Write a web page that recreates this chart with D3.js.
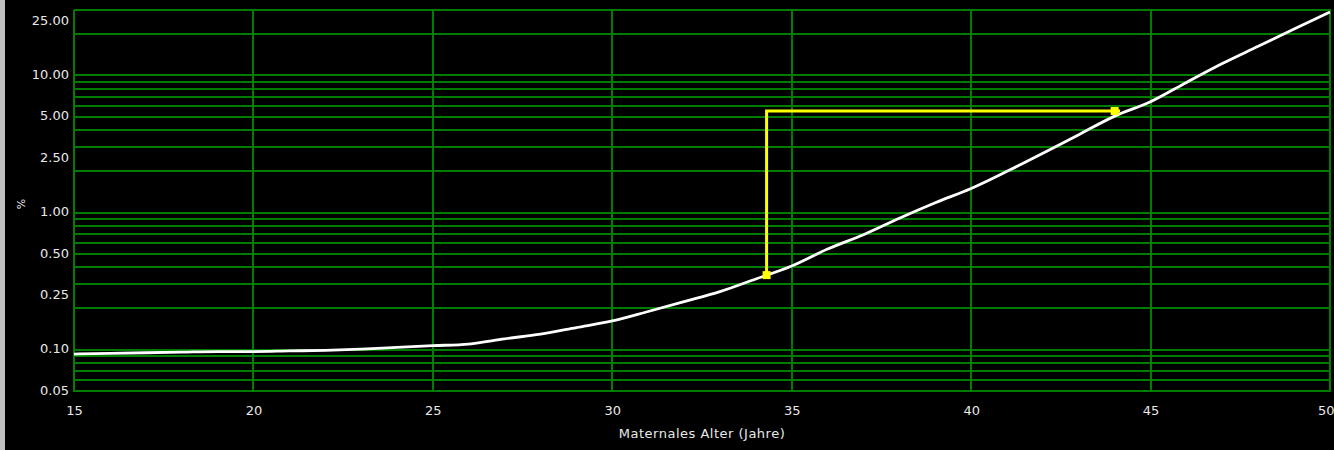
<!DOCTYPE html>
<html><head><meta charset="utf-8">
<script src="https://cdn.jsdelivr.net/npm/d3@7"></script>
<style>
html,body{margin:0;padding:0;background:#000;overflow:hidden;}
svg{display:block;}
text{font-family:"DejaVu Sans",Verdana,sans-serif;fill:#e8e8e8;}
</style></head><body>
<svg id="c" width="1334" height="450"></svg>
<script>
// Data
const ages = [15,16,17,18,19,20,21,22,23,24,25,26,27,28,29,30,31,32,33,34,35,36,37,38,39,40,41,42,43,44,45,46,47,48,49,50];
const risk = [0.093,0.094,0.095,0.096,0.097,0.097,0.098,0.099,0.101,0.104,0.107,0.110,0.120,0.130,0.145,0.162,0.190,0.224,0.265,0.328,0.408,0.542,0.690,0.910,1.18,1.50,2.00,2.71,3.70,5.05,6.43,8.89,12.2,16.3,21.8,29.0];
const markerAge = [34.3, 34.3, 44.15];
const markerRisk = [0.35, 5.5, 5.5];
const markerPoints = [[34.3,0.35],[44.0,5.5]];
const xTicks = [15,20,25,30,35,40,45,50];
const yTickValues = [0.05,0.10,0.25,0.50,1.00,2.50,5.00,10.00,25.00];
const yTickLabels = ["0.05","0.10","0.25","0.50","1.00","2.50","5.00","10.00","25.00"];
const yGrid = [0.05,0.06,0.07,0.08,0.09,0.1,0.2,0.3,0.4,0.5,0.6,0.7,0.8,0.9,1,2,3,4,5,6,7,8,9,10,20,30];
const xTitle = "Maternales Alter (Jahre)";
const yTitle = "%";

const svg = d3.select("#c");
const L=74, R=1330, T=10, B=391;
const x = d3.scaleLinear().domain([15,50]).range([L,R]);
const y = d3.scaleLog().domain([0.05,30]).range([B,T]);
const px = v => Math.round(v);
const FONT = "'DejaVu Sans',Verdana,sans-serif";

svg.append("rect").attr("x",0).attr("y",0).attr("width",1334).attr("height",450).attr("fill","#000");
svg.append("rect").attr("x",0).attr("y",0).attr("width",5).attr("height",450).attr("fill","#c0c0c0");

const grid = svg.append("g").attr("stroke","#007c00").attr("stroke-width",2).attr("shape-rendering","crispEdges");
grid.selectAll("line.h").data(yGrid).enter().append("line")
  .attr("x1",px(L)).attr("x2",px(R)+1).attr("y1",d=>px(y(d))).attr("y2",d=>px(y(d)));
grid.selectAll("line.v").data(xTicks).enter().append("line")
  .attr("y1",px(T)).attr("y2",px(B)+1).attr("x1",d=>px(x(d))).attr("x2",d=>px(x(d)));

const yAxis = d3.axisLeft(y).tickValues(yTickValues).tickFormat((d,i)=>yTickLabels[i]).tickSize(0).tickPadding(5);
const gy = svg.append("g").attr("transform",`translate(${L},-1)`).call(yAxis);
gy.select(".domain").remove();
gy.selectAll("text").attr("fill","#e8e8e8").style("font-size","13px").style("font-family",FONT);

const xAxis = d3.axisBottom(x).tickValues(xTicks).tickFormat(d3.format("d")).tickSize(0).tickPadding(15);
const gx = svg.append("g").attr("transform",`translate(0,${B})`).call(xAxis);
gx.select(".domain").remove();
gx.selectAll("text").attr("fill","#e8e8e8").style("font-size","13px").style("font-family",FONT);
// keep the last label inside the page
gx.selectAll(".tick").filter(d=>d===50).select("text").attr("text-anchor","end").attr("x",4);

svg.append("text").attr("x",(L+R)/2).attr("y",438).attr("text-anchor","middle")
  .style("font-size","13px").style("letter-spacing","0.5px").text(xTitle);
svg.append("text").attr("transform","translate(25,204) rotate(-90)").attr("text-anchor","middle").style("font-size","11px").text(yTitle);

// Curve
const line = d3.line().x(d=>x(d[0])).y(d=>y(d[1]));
const smooth = d3.line().x(d=>x(d[0])).y(d=>y(d[1])).curve(d3.curveMonotoneX);
svg.append("path").datum(ages.map((a,i)=>[a,risk[i]])).attr("d",smooth)
  .attr("fill","none").attr("stroke","#ffffff").attr("stroke-width",2.8).attr("stroke-linejoin","round");

// Yellow annotation
svg.append("path").datum(markerAge.map((a,i)=>[a,markerRisk[i]])).attr("d",line)
  .attr("fill","none").attr("stroke","#ffff00").attr("stroke-width",3).attr("stroke-linejoin","miter");
svg.selectAll("rect.m").data(markerPoints).enter().append("rect")
  .attr("x",d=>x(d[0])-4).attr("y",d=>y(d[1])-4).attr("width",8).attr("height",8).attr("fill","#ffff00");
</script>
</body></html>
